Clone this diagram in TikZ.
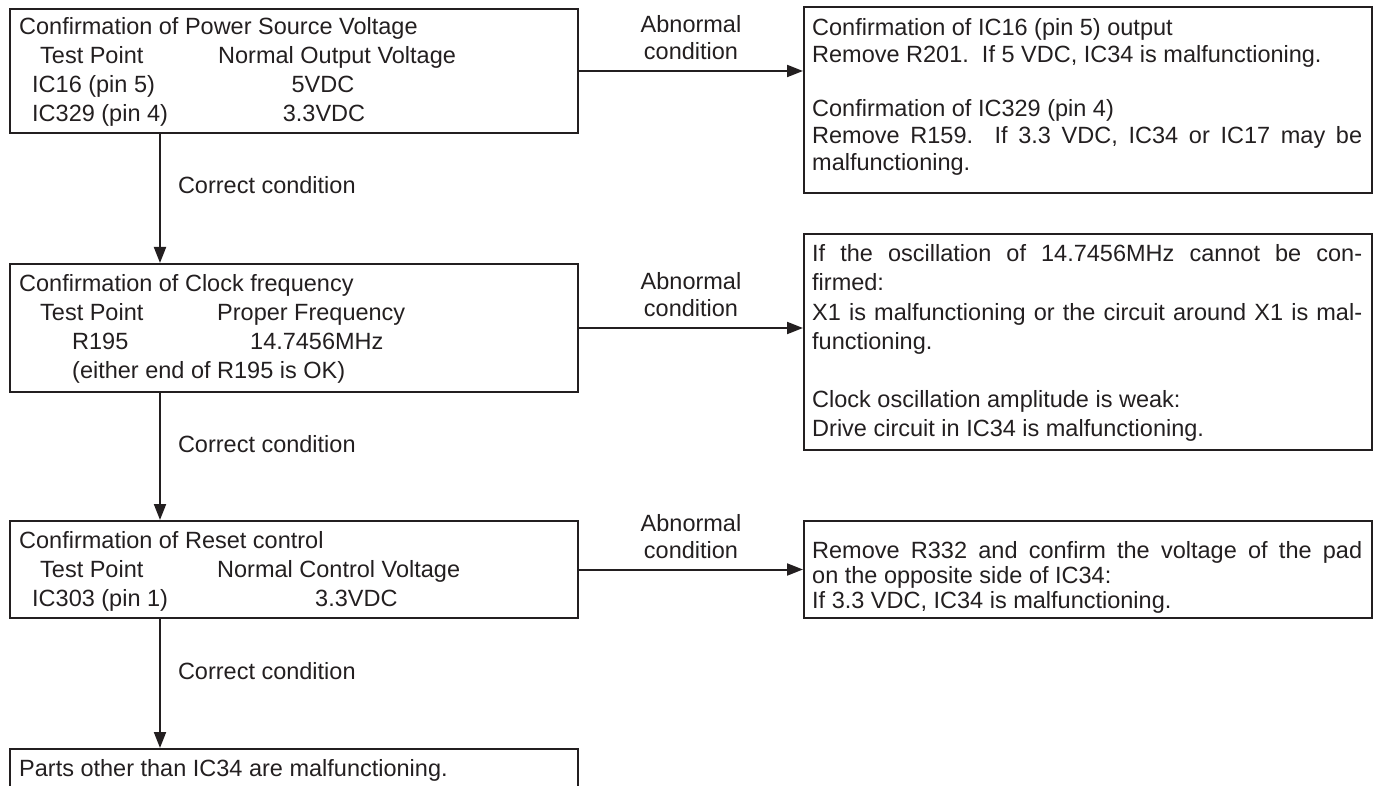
\documentclass[tikz,border=0pt]{standalone}
\usepackage{fontspec}
\setmainfont{Liberation Sans}
\usetikzlibrary{arrows.meta}
\definecolor{ink}{RGB}{35,31,32}
\begin{document}
\begin{tikzpicture}[x=1pt,y=1pt,
  box/.style={draw=ink,line width=2pt,inner sep=0pt,anchor=north west},
  lbox/.style={box,minimum width=568pt},
  rbox/.style={box,minimum width=568pt},
  txt/.style={inner sep=0pt,text=ink,font=\fontsize{23.5}{28}\selectfont,anchor=base west},
  ctxt/.style={txt,anchor=base},
  lab/.style={inner sep=0pt,text=ink,font=\fontsize{23.5}{27}\selectfont,align=center,anchor=south},
  arr/.style={draw=ink,line width=2pt,-{Triangle[length=16pt,width=12pt]}}]
\useasboundingbox (0,0) rectangle (1379,-786);
\clip (0,0) rectangle (1379,-786);
% left boxes
\node[lbox,minimum height=124pt] (b1) at (9,-8) {};
\node[lbox,minimum height=128pt] (b2) at (9,-263) {};
\node[lbox,minimum height=97pt] (b3) at (9,-520) {};
\node[lbox,minimum height=90pt] (b4) at (9,-748) {};
% right boxes
\node[rbox,minimum height=186pt] (r1) at (803,-6) {};
\node[rbox,minimum height=216pt] (r2) at (803,-233) {};
\node[rbox,minimum height=97pt] (r3) at (803,-520) {};
% box 1 text
\node[txt] (b1t1) at (19,-34.5) {Confirmation of Power Source Voltage};
\node[txt] (b1t2) at (40,-63.5) {Test Point};
\node[txt] (b1t3) at (218,-63.5) {Normal Output Voltage};
\node[txt] (b1t4) at (32,-92.5) {IC16 (pin 5)};
\node[ctxt] (b1t5) at (323,-92.5) {5VDC};
\node[txt] (b1t6) at (32,-121.5) {IC329 (pin 4)};
\node[ctxt] (b1t7) at (324,-121.5) {3.3VDC};
% box 2 text
\node[txt] (b2t1) at (19,-291.5) {Confirmation of Clock frequency};
\node[txt] (b2t2) at (40,-320.5) {Test Point};
\node[txt] (b2t3) at (217,-320.5) {Proper Frequency};
\node[txt] (b2t4) at (72,-349.5) {R195};
\node[txt] (b2t5) at (250,-349.5) {14.7456MHz};
\node[txt] (b2t6) at (72,-378.5) {(either end of R195 is OK)};
% box 3 text
\node[txt] (b3t1) at (19,-548.5) {Confirmation of Reset control};
\node[txt] (b3t2) at (40,-577.5) {Test Point};
\node[txt] (b3t3) at (217,-577.5) {Normal Control Voltage};
\node[txt] (b3t4) at (32,-606.5) {IC303 (pin 1)};
\node[txt] (b3t5) at (315,-606.5) {3.3VDC};
% box 4 text
\node[txt] (b4t1) at (19,-776) {Parts other than IC34 are malfunctioning.};
% right box 1 text
\node[txt] (r1t1) at (812,-36) {Confirmation of IC16 (pin 5) output};
\node[txt] (r1t2) at (812,-63) {Remove R201.~~If 5 VDC, IC34 is malfunctioning.};
\node[txt] (r1t3) at (812,-117) {Confirmation of IC329 (pin 4)};
\node[txt] (r1t4) at (812,-144) {\makebox[550pt][s]{Remove R159.~~If 3.3 VDC, IC34 or IC17 may be}};
\node[txt] (r1t5) at (812,-171) {malfunctioning.};
% right box 2 text
\node[txt] (r2t1) at (812,-262) {\makebox[550pt][s]{If the oscillation of 14.7456MHz cannot be con-}};
\node[txt] (r2t2) at (812,-291) {firmed:};
\node[txt] (r2t3) at (812,-320) {\makebox[550pt][s]{X1 is malfunctioning or the circuit around X1 is mal-}};
\node[txt] (r2t4) at (812,-349) {functioning.};
\node[txt] (r2t5) at (812,-407) {Clock oscillation amplitude is weak:};
\node[txt] (r2t6) at (812,-436) {Drive circuit in IC34 is malfunctioning.};
% right box 3 text
\node[txt] (r3t1) at (812,-558) {\makebox[550pt][s]{Remove R332 and confirm the voltage of the pad}};
\node[txt] (r3t2) at (812,-583) {on the opposite side of IC34:};
\node[txt] (r3t3) at (812,-608) {If 3.3 VDC, IC34 is malfunctioning.};
% vertical connectors
\draw[arr] ([xshift=151pt]b1.south west) -- ([xshift=151pt]b2.north west)
  node[pos=0.4,txt,anchor=west,xshift=17pt] (c1) {Correct condition};
\draw[arr] ([xshift=151pt]b2.south west) -- ([xshift=151pt]b3.north west)
  node[pos=0.4,txt,anchor=west,xshift=17pt] (c2) {Correct condition};
\draw[arr] ([xshift=151pt]b3.south west) -- ([xshift=151pt]b4.north west)
  node[pos=0.4,txt,anchor=west,xshift=17pt] (c3) {Correct condition};
% horizontal connectors
\draw[arr] (b1.east) -- (b1.east -| r1.west)
  node[midway,lab,yshift=10pt] (a1) {Abnormal\\condition};
\draw[arr] (b2.east) -- (b2.east -| r2.west)
  node[midway,lab,yshift=10pt] (a2) {Abnormal\\condition};
\draw[arr] (b3.east) -- (b3.east -| r3.west)
  node[midway,lab,yshift=10pt] (a3) {Abnormal\\condition};
\end{tikzpicture}
\end{document}
